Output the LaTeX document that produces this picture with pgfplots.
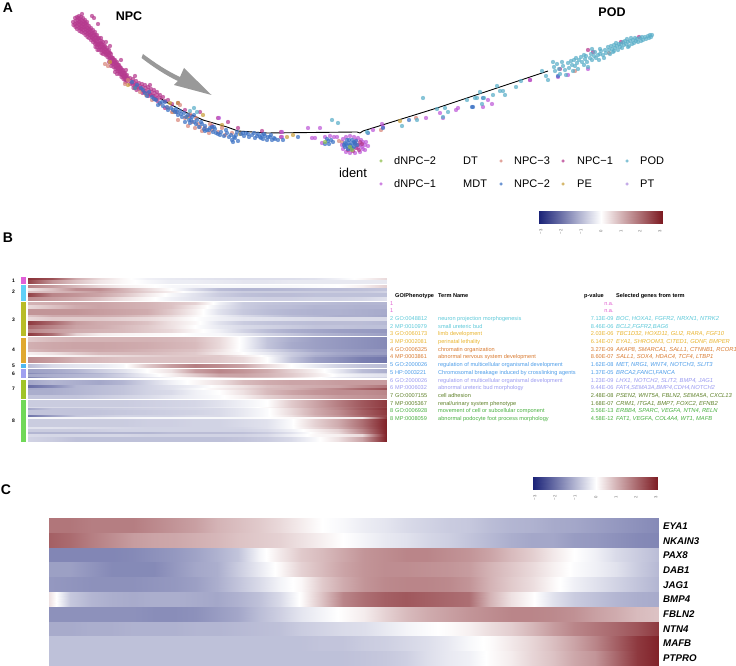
\documentclass[border=0pt]{standalone}
\usepackage{fontspec}
\setmainfont{Liberation Sans}
\usepackage{pgfplots}
\pgfplotsset{compat=1.18}
\definecolor{cNPCa}{HTML}{B5398E}
\definecolor{cNPCb}{HTML}{3C72C4}
\definecolor{cNPCc}{HTML}{D8867C}
\definecolor{cdNa}{HTML}{BE5AD8}
\definecolor{cdNb}{HTML}{8FBF4D}
\definecolor{cPOD}{HTML}{5AAEC8}
\definecolor{cPE}{HTML}{C9A03C}
\definecolor{cPT}{HTML}{B08FE0}
\definecolor{g1}{HTML}{E060D0}
\definecolor{g2}{HTML}{5CC8D8}
\definecolor{g3}{HTML}{E8B430}
\definecolor{g4}{HTML}{D87A30}
\definecolor{g5}{HTML}{4C9CE8}
\definecolor{g6}{HTML}{9A9AF0}
\definecolor{g7}{HTML}{5E8028}
\definecolor{g8}{HTML}{48B040}
\definecolor{s1}{HTML}{E060D8}
\definecolor{s2}{HTML}{60D0F8}
\definecolor{s3}{HTML}{B8BC28}
\definecolor{s4}{HTML}{E0A830}
\definecolor{s5}{HTML}{50B8F0}
\definecolor{s6}{HTML}{A0A0F0}
\definecolor{s7}{HTML}{A0C428}
\definecolor{s8}{HTML}{70D858}
\pgfplotsset{
 px/.style={at={(0pt,0pt)},anchor=south west,width=736pt,height=666pt,scale only axis,
  xmin=0,xmax=736,ymin=0,ymax=666,y dir=reverse,hide axis,clip=false,
  point meta min=-3,point meta max=3,
  colormap={rb}{rgb255=(27,35,120) rgb255=(255,255,255) rgb255=(125,27,34)}},
 pt/.style={only marks,mark=*,mark size=2pt,mark options={solid,draw=#1,fill=#1,line width=.1pt,opacity=.72}},
 ld/.style={only marks,mark=*,mark size=1.5pt,mark options={solid,draw=#1,fill=#1,line width=.1pt,opacity=.72}}
}
\newcommand{\heatmix}[6]{%
  \gdef\rowc{}%
  \xdef\cx{#1}%
  \foreach \v in {#5}{\xdef\rowc{\rowc (\cx,#3) [\v]}\pgfmathsetmacro\nx{\cx+#2}\xdef\cx{\nx}}%
  \xdef\cx{#1}%
  \foreach \v in {#6}{\xdef\rowc{\rowc (\cx,#4) [\v]}\pgfmathsetmacro\nx{\cx+#2}\xdef\cx{\nx}}%
  \edef\tmp{\noexpand\addplot[surf,shader=interp,mesh/rows=2,mesh/check=false,point meta=explicit] coordinates {\rowc};}\tmp}
\newcommand{\heatrow}[5]{\heatmix{#1}{#2}{#3}{#4}{#5}{#5}}
% panel B row, y given in zoom units; adjoining rows blend over a pixel
\gdef\prevz{-1}\gdef\prevlist{}\gdef\prevy{0}
\newcommand{\brow}[3]{%
  \pgfmathsetmacro\ya{265+#1/3}\pgfmathsetmacro\yb{265+#2/3-0.35}%
  \ifdim #1pt=\prevz pt
    \pgfmathsetmacro\yc{\ya+0.35}%
    \edef\tmpb{\noexpand\heatmix{27.7}{23.9}{\prevy}{\yc}{\prevlist}{#3}}\tmpb
    \pgfmathsetmacro\ya{\yc}%
  \fi
  \heatrow{27.7}{23.9}{\ya}{\yb}{#3}%
  \gdef\prevlist{#3}\xdef\prevy{\yb}\gdef\prevz{#2}}
% panel C row by index
\newcommand{\crow}[2]{\pgfmathsetmacro\ya{518+14.8*#1}\pgfmathsetmacro\yb{518+14.8*(#1+1)}\heatrow{49}{21}{\ya}{\yb}{#2}}
\newcommand{\side}[3]{\pgfmathsetmacro\ya{265+#1/3}\pgfmathsetmacro\yb{265+#2/3}\edef\tmp{\noexpand\addplot[fill=#3,draw=none] coordinates {(21,\ya)(25.5,\ya)(25.5,\yb)(21,\yb)} --cycle;}\tmp}
\newcommand{\gorow}[7]{% y, colour, num, id, term, p, genes
 \node[anchor=base west,yshift=-2pt,inner sep=0pt,text=#2,font=\fontsize{5.6}{6}\selectfont] at (axis cs:390,#1) {#3};
 \node[anchor=base west,yshift=-2pt,inner sep=0pt,text=#2,font=\fontsize{5.6}{6}\selectfont] at (axis cs:395,#1) {#4};
 \node[anchor=base west,yshift=-2pt,inner sep=0pt,text=#2,font=\fontsize{5.6}{6}\selectfont] at (axis cs:438,#1) {#5};
 \node[anchor=base east,yshift=-2pt,inner sep=0pt,text=#2,font=\fontsize{5.6}{6}\selectfont] at (axis cs:613.8,#1) {#6};
 \node[anchor=base west,yshift=-2pt,inner sep=0pt,text=#2,font=\fontsize{5.8}{6}\selectfont\itshape] at (axis cs:616,#1) {#7};}
\newcommand{\gene}[2]{\node[anchor=west,inner sep=0pt,font=\fontsize{9.7}{10}\selectfont\bfseries\itshape] at (axis cs:663,#1) {#2};}
\newcommand{\clab}[2]{\node[inner sep=0pt,font=\fontsize{5}{6}\selectfont\bfseries] at (axis cs:13.5,#1) {#2};}
\newcommand{\leg}[3]{\node[anchor=west,inner sep=0pt,font=\fontsize{11}{12}\selectfont] at (axis cs:#1,#2) {#3};}
\newcommand{\cbt}[3]{\node[rotate=90,inner sep=0pt,text=black!60,font=\fontsize{4.2}{5}\selectfont] at (axis cs:#1,#2) {#3};}
\newcommand{\hdr}[2]{\node[anchor=base west,yshift=-2pt,inner sep=0pt,font=\fontsize{5.6}{6}\selectfont\bfseries] at (axis cs:#1,295.5) {#2};}
\begin{document}
\begin{tikzpicture}
\path[use as bounding box] (0,0) rectangle (736pt,666pt);
% PANEL A
\begin{axis}[px]
\addplot[pt=cNPCa] coordinates {
(73,22)(73.5,25)(75,18)(75.5,21)(75,24)(75.5,27)(77,17)(77.5,20)(77,23)(76.5,26)(77,29)(79,16)(79.5,19)(79,22)(79.5,25)(79,28)(79.5,31)
(81,17)(81.5,20)(81,23)(81.5,26)(81,29)(81.5,32)(83,18)(83.5,21)(83,24)(83.5,27)(83,30)(83.5,33)(85,20)(85.5,23)(85,26)(85.5,29)(85,32)(85.5,35)
(87,22)(87.5,25)(87,28)(87.5,31)(87,34)(87.5,37)(89,26)(89.5,29)(89,32)(89.5,35)(89,38)(91,28)(91.5,31)(91,34)(91.5,37)(91,40)
(93,30)(93.5,33)(93,36)(93.5,39)(93,42)(95,32)(95.5,35)(95,38)(95.5,41)(95,44)(95.5,47)(97,35)(97.5,38)(97,41)(97.5,44)(97,47)(97.5,50)
(99,38)(99.5,41)(99,44)(99.5,47)(99,50)(101,38)(101.5,41)(101,44)(101.5,47)(101,50)(101.5,53)(103,42)(103.5,45)(103,48)(103.5,51)(103,54)
(105,46)(105.5,49)(105,52)(105.5,55)(107,48)(107.5,51)(107,54)(107.5,57)(109,50)(109.5,53)(109,56)(109.5,59)(109,62)
(111,54)(111.5,57)(111,60)(111.5,63)(111,66)(113,58)(113.5,61)(113,64)(113.5,67)(115,60)(115.5,63)(115,66)(115.5,69)(115,72)
(117,62)(117.5,65)(117,68)(117.5,71)(117,74)(119,65)(119.5,68)(119,71)(119.5,74)(121,68)(121.5,71)(121,74)(121.5,77)
(123,70)(123.5,73)(123,76)(123.5,79)(125,73)(125.5,76)(125,79)(125.5,82)(127,75)(127.5,78)(127,81)
(130,78)(130.5,81)(130,84)(133,79)(133.5,82)(133,85)(133.5,88)(136,81)(136.5,84)(136,87)(136.5,90)(139,83)(139.5,86)(139,89)
(142,84)(142.5,87)(142,90)(142.5,93)(145,85)(145.5,88)(145,91)(148,87)(148.5,90)(148,93)(148.5,96)(151,89)(151.5,92)(151,95)
(154,90)(154.5,93)(154,96)(154.5,99)(157,92)(157.5,95)(157,98)(157.5,101)(160,95)(160.5,98)(163,97)(165,101)(168,100)(172,104)
(92,16)(98,24)(94,18)(82,14)(106,42)(110,46)(121,60)(126,70)(135,76)(150,85)(178,103)(185,110)(200,112)(218,118)(228,122)(165,108)(190,116)(212,126)(238,128)(262,131)(281,132)(281,137)
(78,18)(80,21)(82,24)(84,27)(86,30)(88,33)(90,35)(92,38)(94,40)(96,43)(98,45)(100,47)(102,49)(104,52)(106,54)(108,55)(110,58)(112,62)(114,64)(116,67)(118,69)(120,72)(122,75)(124,77)(126,80)
(78,24)(80,27)(82,29)(84,22)(86,24)(88,28)(90,30)(92,33)(94,35)(96,37)(98,39)(100,43)(102,44)(104,47)(106,50)(108,52)(110,53)(112,58)(114,60)(116,63)(118,65)(120,67)(122,70)(124,73)(126,76)(128,79)(132,83)(135,85)(138,87)(141,89)(144,92)(147,94)(150,94)(153,96)(156,99)
(588,50)(593,52)(639,37)(621,42)(560,69)(530,80)};
\addplot[pt=cPE] coordinates {(128,85)(135,88)(178,103)(170,103)(203,115)(222,125)(173,112)(293,135)(287,137)(400,121)(187,117)(240,134)(110,62)};
\addplot[pt=cNPCc] coordinates {(105,64)(108,66)(125,84)(128,80)(140,92)(146,95)(152,100)(160,104)(168,108)(172,112)(180,105)(185,118)(192,122)(198,124)(205,128)(212,130)(218,132)(225,135)(232,133)(176,112)(190,114)(200,127)(196,118)(210,124)(222,128)(209,133)(416,118)(381,130)(575,71)(609,53)(339,141)(342,142)(188,126)(195,128)(202,131)(178,120)};
\addplot[pt=cdNa] coordinates {(308,128)(320,128)(312,138)(315,138)(337,137)(282,132)(282,137)(488,100)(492,104)(483,107)(458,108)(456,110)(440,113)(443,118)(426,118)(373,130)(382,124)(383,127)(530,80)(558,77)(568,75)(588,69)(219,118)
(343,139)(346,137)(350,136)(354,137)(358,138)(361,140)(363,142)(365,145)(368,146)(363,149)(360,152)(355,153)(350,153)(346,152)(343,149)(342,145)(358,148)(361,145)(365,150)(366,142)(356,140)(362,147)(325,137)(330,136)(334,137)(322,143)};
\addplot[pt=cNPCa] coordinates {(355,143)(358,145)(360,142)(356,148)(362,144)(359,150)(353,151)(348,150)};
\addplot[black,line width=.9pt] coordinates {(160,98)(166,102)(185,112)(203,120)(227,127)(238,131)(267,133)(357,132)(360,133)(363,131)(437,108)(497,88)(548,71)};
\addplot[pt=cNPCb] coordinates {
(132,82)(137,85)(141,88)(145,93)(149,92)(152,97)(156,100)(160,103)(163,106)(165,102)(168,110)(171,108)(175,112)(178,115)(176,109)(181,114)(184,113)(186,117)(189,120)(192,117)(194,122)(197,120)(199,127)(202,124)(205,126)(207,130)(210,128)(213,132)(215,129)(218,134)(221,132)(224,136)(227,133)(229,137)(232,140)(235,138)(233,142)(236,135)(231,135)(238,141)(241,134)(244,136)(246,133)(249,137)(252,135)(255,138)(258,134)(260,137)(263,139)(265,136)(267,140)(270,137)(272,140)(275,139)(278,140)(283,140)(262,135)(185,122)(190,123)(205,131)(214,127)(194,115)
(135,88)(143,90)(147,96)(154,99)(158,105)(162,102)(167,107)(173,110)(177,112)(180,111)(182,117)(188,115)(191,120)(196,124)(201,122)(204,129)(209,130)(212,127)(216,133)(220,135)(226,130)(234,137)(237,132)(243,133)(248,134)(254,133)(257,136)(261,138)(264,134)(268,137)(271,135)(274,138)
(345,143)(347,146)(349,143)(351,146)(353,143)(349,140)(352,140)(355,144)(347,140)(345,147)(348,149)(351,149)(354,147)(356,141)(344,145)(350,145)(352,148)(346,144)(354,142)(357,145)(325,144)(328,141)(331,140)(327,139)(333,142)(329,144)
(298,137)(409,120)(472,107)(473,107)(483,98)(368,133)(383,128)(558,76)};
\addplot[pt=cdNb] coordinates {(352,150)(325,142)(350,147)};
\addplot[pt=cPOD] coordinates {(423,98)(480,92)(497,86)(500,91)(505,95)(516,87)(521,81)(542,71)(546,76)(548,80)(467,100)(475,98)(477,98)(484,98)(493,95)(482,104)(445,108)(448,112)(437,109)(443,117)(417,120)(402,126)(367,132)(332,120)(338,123)(503,91)(194,108)(190,111)(197,112)
(553,62)(554,67)(555,71)(557,64)(559,69)(560,74)(562,62)(563,66)(565,70)(566,75)(568,63)(569,68)(571,61)(572,65)(574,60)(575,66)(577,63)(578,69)(579,60)(581,57)(582,62)(584,65)(585,59)(586,56)(587,62)(588,67)(590,58)(591,54)(592,60)(594,56)(595,52)(596,58)(598,55)(599,60)(600,54)(601,51)(603,55)(604,58)(605,50)(606,53)(608,47)(609,50)(610,54)(611,46)(612,49)(613,52)(614,45)(615,48)(616,43)(617,46)(618,50)(619,44)(620,47)(621,44)(622,48)(623,42)(624,45)(625,41)(626,44)(627,39)(628,42)(629,46)(630,41)(631,38)(632,44)(633,40)(634,43)(635,38)(636,41)(637,39)(638,42)(640,38)(641,41)(642,37)(643,40)(645,37)(646,39)(648,36)(649,38)(650,35)(651,37)(652,35)(600,49)(628,47)(584,55)(573,71)(592,49)(614,51)(576,58)};
% legend dots
\addplot[ld=cdNb] coordinates {(381,161)};
\addplot[ld=cdNa] coordinates {(381,184)};
\addplot[ld=cNPCc] coordinates {(501,161)};
\addplot[ld=cNPCb] coordinates {(501,184)};
\addplot[ld=cNPCa] coordinates {(563,161)};
\addplot[ld=cPE] coordinates {(563,184)};
\addplot[ld=cPOD] coordinates {(627,161)};
\addplot[ld=cPT] coordinates {(627,184)};
\fill[black!40] (axis cs:143,54) .. controls (axis cs:155,63) and (axis cs:167,71) .. (axis cs:180,77) -- (axis cs:184,68) -- (axis cs:211.5,95) -- (axis cs:174,85) -- (axis cs:178,81) .. controls (axis cs:165,75) and (axis cs:152,66) .. (axis cs:141.5,58) -- cycle;
\node[font=\fontsize{14}{15}\selectfont\bfseries] at (axis cs:8,8) {A};
\node[font=\fontsize{12.5}{13}\selectfont\bfseries] at (axis cs:129,16) {NPC};
\node[font=\fontsize{12.5}{13}\selectfont\bfseries] at (axis cs:612,12) {POD};
\node[font=\fontsize{12.9}{14}\selectfont] at (axis cs:353,173) {ident};
\leg{394}{161}{dNPC−2}\leg{463}{161}{DT}\leg{514}{161}{NPC−3}\leg{577}{161}{NPC−1}\leg{640}{161}{POD}
\leg{394}{184}{dNPC−1}\leg{463}{184}{MDT}\leg{514}{184}{NPC−2}\leg{577}{184}{PE}\leg{640}{184}{PT}
\end{axis}
% colour bars
\begin{axis}[px]
\heatrow{539}{20.5}{211}{224}{-3,-2,-1,0,1,2,3}
\heatrow{533}{20.83}{477}{489}{-3,-2,-1,0,1,2,3}
\cbt{541}{232}{−3}\cbt{561}{232}{−2}\cbt{581}{232}{−1}\cbt{601}{231}{0}\cbt{621}{231}{1}\cbt{640}{231}{2}\cbt{660}{231}{3}
\cbt{535}{498}{−3}\cbt{555}{498}{−2}\cbt{575}{498}{−1}\cbt{596}{497}{0}\cbt{616}{497}{1}\cbt{636}{497}{2}\cbt{656}{497}{3}
\end{axis}
% PANEL B
\begin{axis}[px]
\brow{38}{44}{2.7,2.3,1.1,.5,.1,-.2,-.3,-.35,-.4,-.45,-.45,-.45,-.4,-.2,.1,.5}
\brow{44}{57}{2.5,1.4,.8,.35,.1,-.1,-.25,-.25,-.3,-.35,-.35,-.3,-.3,-.3,-.3,-.3}
\brow{60}{68}{1.6,1.3,.9,.5,.2,.05,-.1,-.15,-.1,-.1,-.1,-.1,-.05,.0,.2,.6}
\brow{68}{78}{.3,.8,1.5,1.5,1.0,.5,.0,-.5,-.9,-1,-1,-.95,-.9,-.9,-.85,-.8}
\brow{78}{84}{.8,.9,1.1,1.3,1.0,.6,.2,-.2,-.6,-.7,-.7,-.7,-.7,-.7,-.7,-.6}
\brow{84}{96}{2.5,1.6,1.4,1.2,.8,.3,-.1,-.4,-.7,-.85,-.9,-.9,-.85,-.85,-.85,-.85}
\brow{96}{108}{1.5,1.3,1.1,.8,.4,.1,-.2,-.4,-.55,-.6,-.65,-.65,-.6,-.6,-.55,-.4}
\brow{110}{120}{1.0,1.1,1.2,1.2,1.1,1.0,.8,.6,-.2,-.7,-.8,-.85,-.9,-.95,-1,-1}
\brow{120}{130}{.5,.8,1.1,1.2,1.1,1.0,.8,.3,-.3,-.7,-.85,-.9,-1,-1,-1.05,-1.05}
\brow{130}{150}{1.4,1.4,1.4,1.3,1.2,1.1,.7,.2,-.4,-.75,-.9,-1,-1.05,-1.05,-1.1,-1.15}
\brow{150}{156}{.8,1.1,1.1,1.1,1.0,.8,.5,.1,-.2,-.5,-.7,-.9,-1,-1.1,-1.1,-1.2}
\brow{156}{166}{.5,.7,.7,.7,.6,.5,.3,.0,-.2,-.35,-.4,-.45,-.5,-.5,-.5,-.5}
\brow{166}{180}{2.6,2.0,1.3,1.1,1.0,.8,.4,.1,-.4,-.7,-.8,-.85,-.9,-.9,-.9,-.95}
\brow{180}{190}{2.0,1.6,1.2,1.1,.9,.7,.4,.0,-.3,-.5,-.6,-.7,-.8,-.8,-.85,-.85}
\brow{190}{202}{1.6,1.3,1.1,1.0,.9,.7,.5,.1,-.2,-.6,-.9,-1.1,-1.2,-1.3,-1.35,-1.4}
\brow{202}{213}{2.6,1.9,.6,.25,.15,.1,.05,-.05,-.1,-.3,-.6,-.8,-1.0,-1.1,-1.2,-1.3}
\brow{217}{230}{.7,.9,1,1,1,1,.95,.85,.5,-.1,-.8,-1.1,-1.3,-1.4,-1.5,-1.6}
\brow{230}{252}{1.05,1.15,1.2,1.2,1.15,1.1,1.0,.9,.5,-.1,-.8,-1.15,-1.3,-1.4,-1.5,-1.6}
\brow{252}{260}{.9,1.1,1.1,1.15,1.1,1.0,.9,.8,.4,-.1,-.5,-.9,-1.2,-1.3,-1.4,-1.4}
\brow{260}{268}{.2,.4,.7,.9,.9,.9,.8,.7,.3,.0,-.3,-.7,-1.0,-1.2,-1.3,-1.35}
\brow{268}{274}{0,.1,.2,.4,.5,.6,.7,.7,.7,.3,-.1,-.7,-1.1,-1.3,-1.5,-1.6}
\brow{274}{294}{1.5,1.3,1.0,.9,.8,.8,.8,.8,.7,.5,.0,-.8,-1.3,-1.5,-1.75,-1.85}
\brow{298}{308}{-.9,-.5,-.35,-.3,-.1,.7,1.3,1.7,1.5,1.2,.5,.0,-.3,-.6,-.8,-.9}
\brow{312}{322}{-1.3,-1.2,-1.0,-.7,-.4,.0,.4,1.3,1.6,1.4,1.1,.6,.2,-.3,-.9,-1.1}
\brow{322}{327}{-1.6,-1.3,-1.2,-1.0,-.7,-.1,.2,.9,1.4,1.3,1.0,.7,.3,-.2,-.5,-.6}
\brow{327}{334}{-1.2,-1.1,-1.0,-.9,-.6,-.2,.2,.7,1.2,1.2,1.0,.7,.3,-.1,-.3,-.4}
\brow{334}{340}{-1.7,-1.2,-1,-.9,-.7,-.4,-.1,.2,.6,.9,.8,.5,.1,-.3,-.5,-.6}
\brow{344}{359}{-1.2,-1.0,-1.1,-1.2,-1.0,-.6,-.2,.1,.4,.9,1.1,1.2,1.2,1.3,1.3,1.3}
\brow{359}{367}{-2.0,-1.6,-1.0,-.9,-.8,-.6,-.4,-.2,.1,.4,.8,1.0,1.1,1.2,1.5,1.8}
\brow{367}{375}{-1.2,-1.1,-1.0,-.9,-.8,-.6,-.4,-.1,.2,.5,.9,1.0,1.3,1.6,2.0,2.3}
\brow{375}{389}{-1.1,-1.1,-1.0,-.9,-.8,-.6,-.5,-.2,0,.4,.9,1.2,1.4,1.5,1.5,1.6}
\brow{389}{402}{-.8,-.8,-.8,-.7,-.6,-.5,-.35,-.2,-.05,.2,.6,.9,1.1,1.3,1.4,1.5}
\brow{405}{424}{-.7,-.7,-.7,-.7,-.7,-.65,-.6,-.55,-.4,-.2,.0,.7,1.2,1.7,2.2,2.6}
\brow{424}{429}{-.5,-.5,-.5,-.5,-.5,-.5,-.5,-.45,-.3,-.15,.1,.7,1.2,1.6,2.1,2.5}
\brow{429}{434}{-1.2,-.8,-.8,-.75,-.7,-.65,-.6,-.55,-.5,-.3,-.05,.5,1.1,1.6,2.2,2.7}
\brow{434}{449}{-.8,-.8,-.8,-.8,-.75,-.7,-.65,-.6,-.5,-.3,-.05,.5,1.1,1.5,2.1,2.6}
\brow{449}{455}{-1.9,-1.3,-.8,-.7,-.6,-.6,-.6,-.5,-.5,-.3,-.05,.4,1.0,1.4,2.0,2.5}
\brow{455}{461}{-.1,-.1,-.15,-.2,-.15,-.1,-.1,-.1,-.1,-.1,.0,.05,.1,.2,.3,2.6}
\brow{461}{484}{-.7,-.7,-.7,-.7,-.7,-.65,-.65,-.6,-.6,-.5,-.4,-.05,.6,1.1,1.9,2.9}
\brow{484}{491}{-.4,-.4,-.45,-.5,-.55,-.6,-.6,-.6,-.6,-.55,-.4,-.05,.5,1.0,1.8,2.9}
\brow{491}{499}{-.7,-.7,-.7,-.65,-.6,-.6,-.6,-.6,-.6,-.6,-.5,-.2,.2,.6,1.6,2.9}
\brow{499}{505}{-1,-1,-1,-1,-1,-1,-.9,-.9,-.9,-.85,-.7,-.4,.1,.5,1.5,2.9}
\brow{505}{515}{-.5,-.55,-.55,-.55,-.55,-.6,-.6,-.6,-.6,-.6,-.5,-.2,.1,.2,.5,2.9}
\brow{515}{530}{-.6,-.7,-.85,-.85,-.85,-.85,-.85,-.85,-.85,-.8,-.7,-.5,-.1,.4,1.2,2.9}
\side{37}{58}{s1}\side{60}{108}{s2}\side{111}{214}{s3}\side{218}{294}{s4}\side{298}{308}{s5}\side{312}{340}{s6}\side{344}{402}{s7}\side{406}{530}{s8}
\clab{281}{1}\clab{292}{2}\clab{320}{3}\clab{350}{4}\clab{366}{5}\clab{374}{6}\clab{389}{7}\clab{421}{8}
\node[font=\fontsize{14}{15}\selectfont\bfseries] at (axis cs:8,238) {B};
\hdr{395}{GO/Phenotype}\hdr{438}{Term Name}\hdr{584}{p-value}\hdr{616}{Selected genes from term}
\gorow{303.3}{g1}{1}{}{}{n.a.}{}
\gorow{311}{g1}{1}{}{}{n.a.}{}
\gorow{318.7}{g2}{2}{GO:0048812}{neuron projection morphogenesis}{7.13E-09}{BOC, HOXA1, FGFR2, NRXN1, NTRK2}
\gorow{326.3}{g2}{2}{MP:0010979}{small ureteric bud}{8.46E-06}{BCL2,FGFR2,BAG6}
\gorow{334}{g3}{3}{GO:0060173}{limb development}{2.03E-06}{TBC1D32, HOXD11, GLI2, RARA, FGF10}
\gorow{341.7}{g3}{3}{MP:0002081}{perinatal lethality}{6.14E-07}{EYA1, SHROOM3, CITED1, GDNF, BMPER}
\gorow{349.3}{g4}{4}{GO:0006325}{chromatin organization}{3.27E-09}{AKAP8, SMARCA1, SALL1, CTNNB1, RCOR1}
\gorow{357}{g4}{4}{MP:0003861}{abnormal nervous system development}{8.60E-07}{SALL1, SOX4, HDAC4, TCF4, LTBP1}
\gorow{364.7}{g5}{5}{GO:2000026}{regulation of multicellular organismal development}{1.62E-08}{MET, NRG1, WNT4, NOTCH3, SLIT3}
\gorow{372.3}{g5}{5}{HP:0003221}{Chromosomal breakage induced by crosslinking agents}{1.37E-05}{BRCA2,FANCI,FANCA}
\gorow{380}{g6}{6}{GO:2000026}{regulation of multicellular organismal development}{1.23E-09}{LHX1, NOTCH2, SLIT2, BMP4, JAG1}
\gorow{387.7}{g6}{6}{MP:0006032}{abnormal ureteric bud morphology}{9.44E-06}{FAT4,SEMA3A,BMP4,CDH4,NOTCH2}
\gorow{395.3}{g7}{7}{GO:0007155}{cell adhesion}{2.48E-08}{PSEN2, WNT5A, FBLN2, SEMA5A, CXCL13}
\gorow{403}{g7}{7}{MP:0005367}{renal/urinary system phenotype}{1.68E-07}{CRIM1, ITGA1, BMP7, FOXC2, EFNB2}
\gorow{410.7}{g8}{8}{GO:0006928}{movement of cell or subcellular component}{3.56E-13}{ERBB4, SPARC, VEGFA, NTN4, RELN}
\gorow{418.3}{g8}{8}{MP:0008059}{abnormal podocyte foot process morphology}{4.58E-12}{FAT1, VEGFA, COL4A4, WT1, MAFB}
\end{axis}
% PANEL C
\begin{axis}[px]
\crow{0}{1.8,1.8,1.7,1.7,1.7,1.55,1.4,1.25,1.0,.85,.7,.5,.25,0,-.1,-.25,-.35,-.5,-.6,-.7,-.75,-.9,-1.0,-1.05,-1.15,-1.2,-1.3,-1.4,-1.5,-1.6}
\crow{1}{2.1,1.95,1.7,1.5,1.3,1.2,1.15,1.05,.95,.8,.7,.6,.4,.2,0,-.15,-.3,-.4,-.55,-.65,-.8,-.95,-1.1,-1.2,-1.2,-1.35,-1.4,-1.5,-1.6,-1.65}
\crow{2}{-1.65,-1.65,-1.65,-1.65,-1.6,-1.5,-1.4,-1.25,-1.05,-.8,-.15,.3,.7,.9,1.15,1.4,1.5,1.6,1.6,1.5,1.4,1.2,.9,.65,.3,0,-.2,-.5,-.7,-.9}
\crow{3}{-1.3,-1.3,-1.45,-1.6,-1.6,-1.6,-1.4,-1.2,-1.1,-.7,-.3,.1,.6,.9,1.2,1.4,1.5,1.5,1.45,1.4,1.3,1.0,.75,.5,.2,-.05,-.2,-.4,-.7,-.95}
\crow{4}{-1.4,-1.45,-1.5,-1.5,-1.5,-1.45,-1.4,-1.3,-1.1,-.8,-.5,-.15,.1,.7,1.1,1.4,1.55,1.6,1.6,1.55,1.4,1.0,.7,.45,.1,-.2,-.4,-.6,-.8,-1.0}
\crow{5}{.4,-.75,-1.0,-1.1,-1.15,-1.1,-1.1,-1.15,-1.2,-1.05,-.85,-.5,.05,.8,1.6,1.9,2.1,2.2,2.1,2.0,1.9,1.0,.4,.05,-.4,-.7,-.85,-1.0,-1.1,-1.15}
\crow{6}{-1.5,-1.5,-1.5,-1.5,-1.5,-1.55,-1.55,-1.5,-1.35,-1.2,-.9,-.65,-.35,-.15,.05,.25,.6,.9,1.1,1.25,1.4,1.5,1.6,1.6,1.55,1.45,1.25,1.1,.9,.8}
\crow{7}{-1.15,-1.15,-1.1,-1.1,-1.05,-1.05,-1.05,-1.0,-1.0,-.95,-.9,-.85,-.7,-.6,-.5,-.45,-.3,-.15,-.05,.05,.2,.45,.65,.95,1.3,1.6,1.8,2.0,2.25,2.6}
\crow{8}{-.85,-.85,-.85,-.85,-.85,-.85,-.85,-.85,-.85,-.85,-.85,-.85,-.85,-.8,-.8,-.7,-.65,-.55,-.45,-.3,-.1,.05,.3,.55,.85,1.2,1.6,2.1,2.6,2.9}
\crow{9}{-.85,-.85,-.85,-.85,-.85,-.85,-.85,-.85,-.85,-.85,-.85,-.85,-.85,-.85,-.85,-.8,-.75,-.65,-.45,-.3,-.2,.05,.25,.55,.8,1.15,1.4,2.0,2.6,2.9}
\gene{526.5}{EYA1}\gene{541}{NKAIN3}\gene{555}{PAX8}\gene{570}{DAB1}\gene{585}{JAG1}\gene{599}{BMP4}\gene{614}{FBLN2}\gene{629}{NTN4}\gene{643}{MAFB}\gene{658}{PTPRO}
\node[font=\fontsize{14}{15}\selectfont\bfseries] at (axis cs:6,490) {C};
\end{axis}
\end{tikzpicture}
\end{document}
